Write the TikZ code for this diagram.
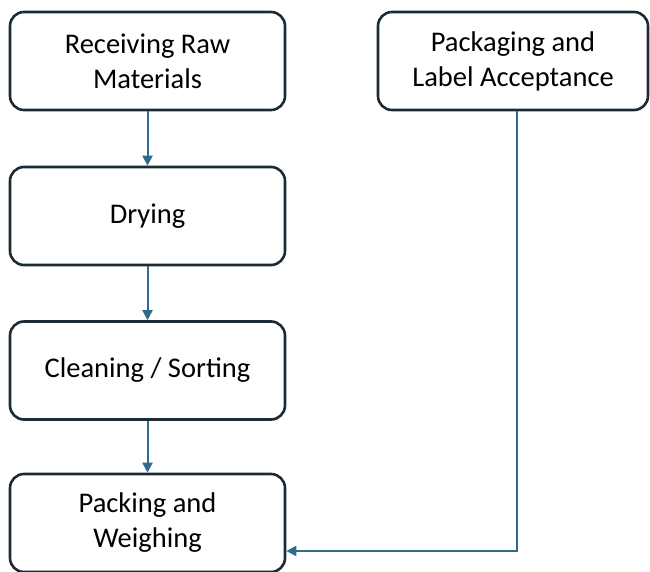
\documentclass[tikz,border=0pt]{standalone}
\usepackage{fontspec}
\setmainfont{Carlito}
\usetikzlibrary{arrows.meta}
\definecolor{conn}{HTML}{2E6B8C}
\definecolor{bord}{HTML}{1C2A33}
\begin{document}
\begin{tikzpicture}[x=1pt,y=-1pt,
  box/.style={draw=bord,line width=2.6pt,rounded corners=14pt,minimum width=275pt,minimum height=98pt,align=center,font=\fontsize{28.5}{35}\selectfont,inner sep=0pt},
  conn/.style={draw=conn,line width=2pt,-{Triangle[length=10pt,width=10pt]}}]
\useasboundingbox (0,0) rectangle (650,572);
\node[box] (recv) at (147.5,61) {Receiving Raw\\Materials};
\node[box] (dry) at (147.5,216) {Drying};
\node[box] (clean) at (147.5,370.5) {Cleaning / Sorting};
\node[box] (pack) at (147.5,523) {Packing and\\Weighing};
\node[box,minimum width=270pt] (label) at (513,61) {Packaging and\\Label Acceptance};
\draw[conn] (recv) -- (dry);
\draw[conn] (dry) -- (clean);
\draw[conn] (clean) -- (pack);
\draw[conn] (label.south -| 517,0) |- (pack.east |- 0,551);
\end{tikzpicture}
\end{document}
